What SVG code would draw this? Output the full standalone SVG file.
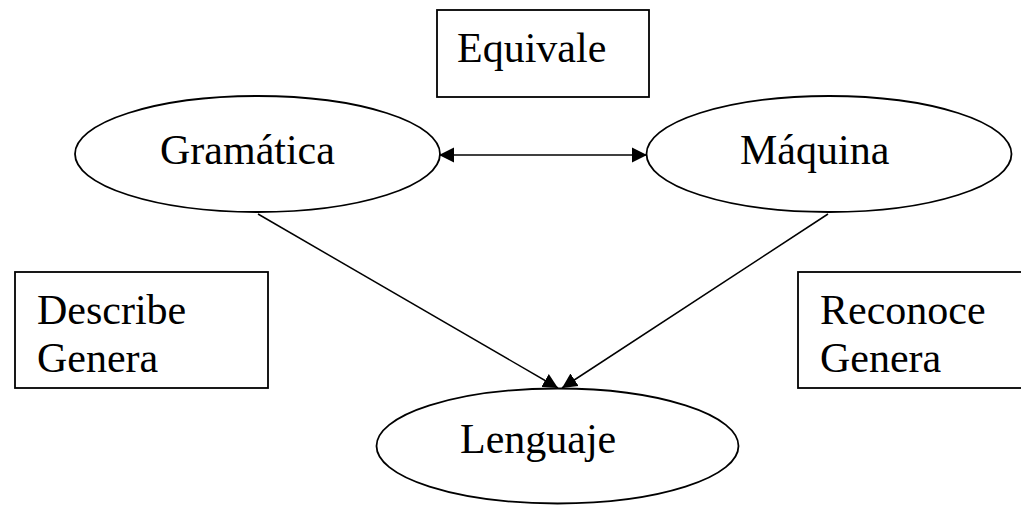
<svg xmlns="http://www.w3.org/2000/svg" width="1021" height="507" viewBox="0 0 1021 507">
<style>
.shape{fill:#fff;stroke:#000;stroke-width:1.8}
.lbl{font-family:"Liberation Serif","Times New Roman",serif;font-size:42px;fill:#000}
.conn{stroke:#000;stroke-width:1.5;fill:none}
</style>
<defs>
<marker id="arr" markerUnits="userSpaceOnUse" markerWidth="18" markerHeight="18" viewBox="0 -9 18 18" refX="15" refY="0" orient="auto-start-reverse">
<path d="M0,-7.5 L15,0 L0,7.5 z" fill="#000"/>
</marker>
</defs>
<rect width="1021" height="507" fill="#fff"/>
<g id="equivale">
<rect class="shape" x="437" y="10" width="212" height="87"/>
<text class="lbl" x="457" y="62">Equivale</text>
</g>
<g id="describe">
<rect class="shape" x="15" y="272" width="253" height="116"/>
<text class="lbl" x="37" y="324">Describe</text>
<text class="lbl" x="37" y="372">Genera</text>
</g>
<g id="reconoce">
<rect class="shape" x="798" y="272" width="240" height="116"/>
<text class="lbl" x="820" y="324">Reconoce</text>
<text class="lbl" x="820" y="372">Genera</text>
</g>
<g id="gramatica">
<ellipse class="shape" cx="257.5" cy="154" rx="182.5" ry="58"/>
<text class="lbl" x="160" y="164">Gramática</text>
</g>
<g id="maquina">
<ellipse class="shape" cx="829" cy="154" rx="182.5" ry="58"/>
<text class="lbl" x="740" y="164">Máquina</text>
</g>
<g id="lenguaje">
<ellipse class="shape" cx="557.5" cy="446" rx="181" ry="57.5"/>
<text class="lbl" x="460" y="453">Lenguaje</text>
</g>
<g id="connectors">
<line class="conn" x1="439" y1="155" x2="647" y2="155" marker-start="url(#arr)" marker-end="url(#arr)"/>
<line class="conn" x1="258" y1="214" x2="558" y2="388" marker-end="url(#arr)"/>
<line class="conn" x1="828" y1="214" x2="562" y2="388" marker-end="url(#arr)"/>
</g>
</svg>
